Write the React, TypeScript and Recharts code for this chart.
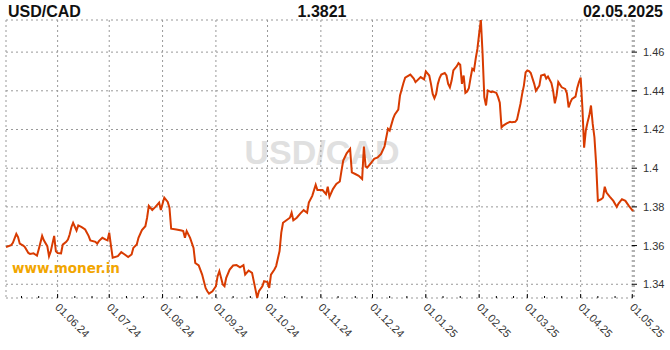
import { LineChart, Line, XAxis, YAxis, CartesianGrid } from "recharts";

const pair = "USD/CAD";
const lastRate = "1.3821";
const lastDate = "02.05.2025";
const site = "www.moner.in";

// range of the chart (dd.mm.yyyy)
const startDate = "02.05.2024";
const endDate = "02.05.2025";

const monthLabels = [
  "01.06.24", "01.07.24", "01.08.24", "01.09.24", "01.10.24", "01.11.24",
  "01.12.24", "01.01.25", "01.02.25", "01.03.25", "01.04.25", "01.05.25",
];
const minorDaysOfMonth = [11, 21];
const rateTicks = [1.34, 1.36, 1.38, 1.4, 1.42, 1.44, 1.46];

// days since startDate
const days = [
  0, 3, 4, 6, 7, 8, 10, 11, 13, 14, 16, 17, 18, 19, 21, 22, 24, 25, 26, 28,
  29, 30, 32, 33, 35, 36, 37, 38, 39, 41, 42, 44, 46, 48, 49, 52, 53, 54, 56, 58,
  59, 60, 61, 62, 65, 67, 69, 71, 73, 74, 76, 77, 79, 81, 82, 83, 85, 87, 89, 90,
  92, 94, 95, 96, 99, 102, 103, 104, 105, 107, 109, 110, 112, 114, 116, 117, 118, 120, 122, 123,
  124, 126, 127, 128, 130, 132, 134, 136, 138, 139, 141, 143, 144, 146, 147, 149, 150, 152, 153, 154,
  156, 157, 159, 160, 161, 163, 165, 166, 167, 169, 171, 173, 175, 176, 178, 180, 181, 184, 186, 187,
  188, 190, 192, 194, 195, 196, 198, 200, 201, 203, 205, 207, 208, 209, 210, 212, 214, 216, 218, 220,
  222, 223, 225, 226, 228, 229, 231, 232, 235, 237, 238, 241, 243, 244, 246, 247, 248, 249, 250, 251,
  252, 253, 255, 256, 257, 258, 259, 260, 262, 263, 264, 265, 266, 267, 268, 269, 270, 271, 272, 273,
  274, 275, 276, 277, 278, 279, 280, 282, 283, 285, 286, 287, 288, 289, 291, 293, 294, 296, 297, 299,
  300, 301, 302, 303, 304, 305, 307, 308, 310, 311, 313, 314, 315, 317, 318, 319, 320, 321, 323, 325,
  326, 327, 328, 329, 331, 332, 333, 334, 335, 336, 337, 338, 339, 340, 341, 342, 343, 344, 346, 347,
  348, 349, 351, 353, 355, 356, 358, 360, 362, 364, 365,
];

const rates = [
  1.3592, 1.3602, 1.3614, 1.366, 1.3644, 1.361, 1.36, 1.3592, 1.3562, 1.3557, 1.356, 1.3554, 1.3548, 1.358, 1.365, 1.3627, 1.3597, 1.3545, 1.357, 1.365,
  1.357, 1.3562, 1.356, 1.3605, 1.3619, 1.3631, 1.3657, 1.3695, 1.3718, 1.3678, 1.3704, 1.3695, 1.3683, 1.365, 1.3627, 1.3619, 1.361, 1.3623, 1.364, 1.3631,
  1.3627, 1.3667, 1.36, 1.3537, 1.3545, 1.3566, 1.3554, 1.3541, 1.3554, 1.3588, 1.3606, 1.364, 1.368, 1.37, 1.3744, 1.3805, 1.3784, 1.3801, 1.3822, 1.3784,
  1.3848, 1.3826, 1.3796, 1.3687, 1.3683, 1.3678, 1.3675, 1.364, 1.3675, 1.364, 1.3588, 1.351, 1.3497, 1.345, 1.3381, 1.3364, 1.3352, 1.3364, 1.339, 1.3442,
  1.3468, 1.3399, 1.339, 1.3433, 1.3476, 1.3497, 1.3499, 1.3488, 1.3499, 1.345, 1.3471, 1.3459, 1.3416, 1.3329, 1.3364, 1.339, 1.3416, 1.3411, 1.3381, 1.345,
  1.3476, 1.3494, 1.3572, 1.3667, 1.3718, 1.3731, 1.3744, 1.377, 1.3731, 1.3744, 1.3765, 1.3783, 1.377, 1.3822, 1.3857, 1.3914, 1.3887, 1.3887, 1.3866, 1.3904,
  1.3852, 1.3892, 1.3918, 1.3931, 1.3987, 1.4039, 1.4077, 1.41, 1.3978, 1.397, 1.3961, 1.3944, 1.4112, 1.4008, 1.4004, 1.4025, 1.4048, 1.4056, 1.4074, 1.4112,
  1.4204, 1.4195, 1.4256, 1.4278, 1.4303, 1.4376, 1.444, 1.4468, 1.4484, 1.4463, 1.4445, 1.4471, 1.4459, 1.45, 1.4479, 1.4436, 1.4384, 1.4361, 1.4384, 1.4436,
  1.4466, 1.4484, 1.4492, 1.4479, 1.4436, 1.4418, 1.4453, 1.4505, 1.4527, 1.4543, 1.4535, 1.4436, 1.4479, 1.4389, 1.4396, 1.4413, 1.4466, 1.4514, 1.4505, 1.4566,
  1.4618, 1.4696, 1.4766, 1.459, 1.4367, 1.4324, 1.4402, 1.4393, 1.4396, 1.4389, 1.4367, 1.4338, 1.4211, 1.422, 1.4232, 1.424, 1.4237, 1.424, 1.4251, 1.4332,
  1.4384, 1.4427, 1.4495, 1.4505, 1.4502, 1.4492, 1.4436, 1.44, 1.4427, 1.4479, 1.4484, 1.4463, 1.4474, 1.444, 1.44, 1.4335, 1.4376, 1.4445, 1.4418, 1.441,
  1.4387, 1.4314, 1.434, 1.4358, 1.437, 1.4415, 1.4445, 1.4468, 1.4314, 1.4106, 1.4195, 1.4237, 1.4272, 1.4324, 1.4229, 1.416, 1.4021, 1.3831, 1.384, 1.3848,
  1.3904, 1.3874, 1.3852, 1.3831, 1.38, 1.3817, 1.384, 1.3831, 1.3805, 1.3783, 1.3779,
];

const DAY = 86400000;
const toTime = (s: string) => {
  const [d, m, y] = s.split(".").map(Number);
  return Date.UTC(y < 100 ? 2000 + y : y, m - 1, d);
};
const t0 = toTime(startDate);
const dayOf = (s: string) => Math.round((toTime(s) - t0) / DAY);
const lastDay = dayOf(endDate);

const majorTicks = monthLabels.map(dayOf);
const labelOf = new Map(majorTicks.map((t, i) => [t, monthLabels[i]]));

// small ticks on the 11th and 21st of each month
const minorTicks: number[] = [];
const first = new Date(t0);
for (let m = first.getUTCMonth(); m < first.getUTCMonth() + 13; m++) {
  for (const d of minorDaysOfMonth) {
    const t = Math.round((Date.UTC(first.getUTCFullYear(), m, d) - t0) / DAY);
    if (t > 0 && t < lastDay) minorTicks.push(t);
  }
}
const allTicks = [...majorTicks, ...minorTicks].sort((a, b) => a - b);

const data = days.map((day, i) => ({ day, rate: rates[i] }));
const yMin = Math.min(...rates);
const yMax = Math.max(...rates);

const FONT = "'Liberation Sans', Arial, sans-serif";

function BottomTick({ x, y, payload }: any) {
  const label = labelOf.get(payload.value);
  const ax = x - 3;
  const ay = y + 10;
  return (
    <g>
      <line x1={x} x2={x} y1={y} y2={y - (label ? 4 : 2)} stroke="#000" />
      {label && (
        <text
          x={ax}
          y={ay}
          transform={`rotate(45 ${ax} ${ay})`}
          fontSize={11}
          fontFamily={FONT}
          fill="#333"
        >
          {label}
        </text>
      )}
    </g>
  );
}

function TopTick({ x, y, payload }: any) {
  const major = labelOf.has(payload.value);
  return <line x1={x} x2={x} y1={y} y2={y + (major ? 4 : 2)} stroke="#000" />;
}

function RightTick({ x, y, payload }: any) {
  return (
    <g>
      <line x1={x - 2} x2={x + 3} y1={y} y2={y} stroke="#000" />
      <text x={x + 9} y={y} dy="0.36em" fontSize={11} fontFamily={FONT} fill="#333">
        {payload.value}
      </text>
    </g>
  );
}

export default function App() {
  return (
    <div style={{ position: "absolute", left: 0, top: 0, width: 670, height: 350, background: "#fff" }}>
      <svg width={670} height={350} style={{ position: "absolute", left: 0, top: 0 }}>
        <text x={8} y={17} fontSize={16} fontWeight="bold" fontFamily={FONT} fill="#111">
          {pair}
        </text>
        <text x={322} y={17} fontSize={16} fontWeight="bold" fontFamily={FONT} fill="#111" textAnchor="middle">
          {lastRate}
        </text>
        <text x={663} y={17} fontSize={16} fontWeight="bold" fontFamily={FONT} fill="#111" textAnchor="end">
          {lastDate}
        </text>
        <text x={322} y={164} fontSize={34} fontWeight="bold" fontFamily={FONT} fill="#e0e0e0" textAnchor="middle">
          {pair}
        </text>
        <text x={12} y={273} fontSize={13.5} fontWeight="bold" fontFamily="'DejaVu Sans', Verdana, sans-serif" fill="#f2a600">
          {site}
        </text>
      </svg>
      <div style={{ position: "absolute", left: 0, top: 0 }}>
        <LineChart width={670} height={350} data={data} margin={{ top: 20, right: 0, bottom: 0, left: 6 }}>
          <CartesianGrid xAxisId="top" yAxisId="rate" stroke="#999" strokeDasharray="2 3" />
          <XAxis
            xAxisId="top"
            orientation="top"
            type="number"
            dataKey="day"
            domain={[0, lastDay]}
            ticks={majorTicks}
            allowDataOverflow
            height={0}
            axisLine={false}
            tickLine={false}
            tickSize={0}
            tickMargin={0}
            tick={<TopTick />}
            interval={0}
          />
          <XAxis
            xAxisId="topMinor"
            orientation="top"
            type="number"
            dataKey="day"
            domain={[0, lastDay]}
            ticks={minorTicks}
            allowDataOverflow
            height={0}
            axisLine={false}
            tickLine={false}
            tickSize={0}
            tickMargin={0}
            tick={<TopTick />}
            interval={0}
          />
          <XAxis
            xAxisId="main"
            type="number"
            dataKey="day"
            domain={[0, lastDay]}
            ticks={allTicks}
            allowDataOverflow
            height={52}
            axisLine={false}
            tickLine={false}
            tickSize={0}
            tickMargin={0}
            tick={<BottomTick />}
            interval={0}
          />
          <YAxis
            yAxisId="rate"
            orientation="right"
            type="number"
            domain={[yMin, yMax]}
            allowDataOverflow
            ticks={rateTicks}
            width={36}
            axisLine={{ stroke: "#999", strokeDasharray: "2 3" }}
            tickLine={false}
            tickSize={0}
            tickMargin={0}
            tick={<RightTick />}
            interval={0}
          />
          <Line
            xAxisId="main"
            yAxisId="rate"
            type="linear"
            dataKey="rate"
            stroke="#d83b01"
            strokeWidth={2}
            dot={false}
            isAnimationActive={false}
          />
        </LineChart>
      </div>
    </div>
  );
}
